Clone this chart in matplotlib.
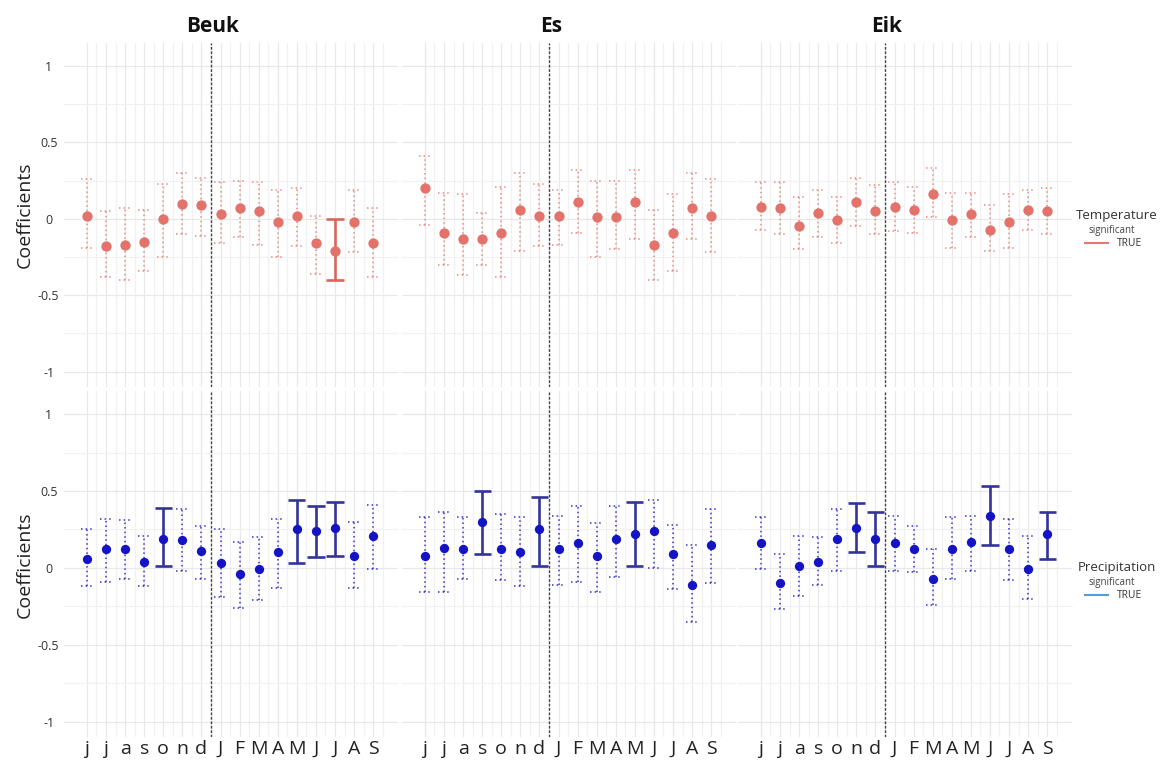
import matplotlib.pyplot as plt
import matplotlib.transforms as mtransforms
import numpy as np

plt.rcParams['font.family'] = ['Open Sans', 'DejaVu Sans']

months = ['j', 'j', 'a', 's', 'o', 'n', 'd', 'J', 'F', 'M', 'A', 'M', 'J', 'J', 'A', 'S']
species = ['Beuk', 'Es', 'Eik']

# temperature coefficients (estimate, lower, upper, significant)
beuk_temp_est = [0.02, -0.18, -0.17, -0.15, 0.00, 0.10, 0.09, 0.03, 0.07, 0.05, -0.02, 0.02, -0.16, -0.21, -0.02, -0.16]
beuk_temp_lo = [-0.19, -0.38, -0.40, -0.34, -0.25, -0.10, -0.11, -0.16, -0.12, -0.17, -0.25, -0.18, -0.36, -0.40, -0.22, -0.38]
beuk_temp_hi = [0.26, 0.05, 0.07, 0.06, 0.23, 0.30, 0.27, 0.24, 0.25, 0.24, 0.19, 0.20, 0.02, 0.00, 0.19, 0.07]
beuk_temp_sig = [0, 0, 0, 0, 0, 0, 0, 0, 0, 0, 0, 0, 0, 1, 0, 0]

es_temp_est = [0.20, -0.09, -0.13, -0.13, -0.09, 0.06, 0.02, 0.02, 0.11, 0.01, 0.01, 0.11, -0.17, -0.09, 0.07, 0.02]
es_temp_lo = [-0.04, -0.30, -0.37, -0.30, -0.38, -0.21, -0.18, -0.17, -0.09, -0.25, -0.20, -0.13, -0.40, -0.34, -0.13, -0.22]
es_temp_hi = [0.41, 0.17, 0.16, 0.04, 0.21, 0.30, 0.23, 0.19, 0.32, 0.25, 0.25, 0.32, 0.06, 0.16, 0.30, 0.26]
es_temp_sig = [0] * 16

eik_temp_est = [0.08, 0.07, -0.05, 0.04, -0.01, 0.11, 0.05, 0.08, 0.06, 0.16, -0.01, 0.03, -0.07, -0.02, 0.06, 0.05]
eik_temp_lo = [-0.07, -0.10, -0.20, -0.12, -0.16, -0.05, -0.10, -0.08, -0.09, 0.01, -0.19, -0.12, -0.21, -0.19, -0.07, -0.10]
eik_temp_hi = [0.24, 0.24, 0.14, 0.19, 0.14, 0.27, 0.22, 0.24, 0.21, 0.33, 0.17, 0.17, 0.09, 0.16, 0.19, 0.20]
eik_temp_sig = [0] * 16

# precipitation coefficients
beuk_prec_est = [0.06, 0.12, 0.12, 0.04, 0.19, 0.18, 0.11, 0.03, -0.04, -0.01, 0.10, 0.25, 0.24, 0.26, 0.08, 0.21]
beuk_prec_lo = [-0.12, -0.09, -0.07, -0.12, 0.01, -0.02, -0.07, -0.19, -0.26, -0.21, -0.13, 0.03, 0.07, 0.08, -0.13, -0.01]
beuk_prec_hi = [0.25, 0.32, 0.31, 0.21, 0.39, 0.38, 0.27, 0.25, 0.17, 0.20, 0.32, 0.44, 0.40, 0.43, 0.30, 0.41]
beuk_prec_sig = [0, 0, 0, 0, 1, 0, 0, 0, 0, 0, 0, 1, 1, 1, 0, 0]

es_prec_est = [0.08, 0.13, 0.12, 0.30, 0.12, 0.10, 0.25, 0.12, 0.16, 0.08, 0.19, 0.22, 0.24, 0.09, -0.11, 0.15]
es_prec_lo = [-0.16, -0.16, -0.07, 0.09, -0.08, -0.12, 0.01, -0.11, -0.09, -0.16, -0.06, 0.01, 0.00, -0.14, -0.35, -0.10]
es_prec_hi = [0.33, 0.36, 0.33, 0.50, 0.35, 0.33, 0.46, 0.34, 0.40, 0.29, 0.40, 0.43, 0.44, 0.28, 0.15, 0.38]
es_prec_sig = [0, 0, 0, 1, 0, 0, 1, 0, 0, 0, 0, 1, 0, 0, 0, 0]

eik_prec_est = [0.16, -0.10, 0.01, 0.04, 0.19, 0.26, 0.19, 0.16, 0.12, -0.07, 0.12, 0.17, 0.34, 0.12, -0.01, 0.22]
eik_prec_lo = [-0.01, -0.27, -0.18, -0.11, -0.02, 0.10, 0.01, -0.02, -0.03, -0.24, -0.07, -0.02, 0.15, -0.08, -0.20, 0.06]
eik_prec_hi = [0.33, 0.09, 0.21, 0.20, 0.38, 0.42, 0.36, 0.34, 0.27, 0.12, 0.33, 0.34, 0.53, 0.32, 0.21, 0.36]
eik_prec_sig = [0, 0, 0, 0, 0, 1, 1, 0, 0, 0, 0, 0, 1, 0, 0, 1]

temp = [
    (beuk_temp_est, beuk_temp_lo, beuk_temp_hi, beuk_temp_sig),
    (es_temp_est, es_temp_lo, es_temp_hi, es_temp_sig),
    (eik_temp_est, eik_temp_lo, eik_temp_hi, eik_temp_sig),
]
prec = [
    (beuk_prec_est, beuk_prec_lo, beuk_prec_hi, beuk_prec_sig),
    (es_prec_est, es_prec_lo, es_prec_hi, es_prec_sig),
    (eik_prec_est, eik_prec_lo, eik_prec_hi, eik_prec_sig),
]

W, H = 1160, 767
fig = plt.figure(figsize=(W / 100, H / 100), dpi=100)


def px_axes(left, top, width, height):
    return fig.add_axes([left / W, 1 - (top + height) / H, width / W, height / H])


def draw_panel(ax, est, lo, hi, sig, pt_color, dot_color, sig_color, pt_size):
    x = np.arange(len(est))
    est, lo, hi = np.array(est), np.array(lo), np.array(hi)
    sig = np.array(sig, dtype=bool)
    ns = ~sig
    # non significant: dotted bars
    ax.vlines(x[ns], lo[ns], hi[ns], color=dot_color, lw=1.1,
              linestyles=(0, (1, 2)), zorder=2)
    ax.hlines(np.r_[lo[ns], hi[ns]], np.r_[x[ns], x[ns]] - 0.33,
              np.r_[x[ns], x[ns]] + 0.33, color=dot_color, lw=1.1,
              linestyles=(0, (1, 2)), zorder=2)
    # significant: solid bars
    ax.vlines(x[sig], lo[sig], hi[sig], color=sig_color, lw=1.9, zorder=2)
    ax.hlines(np.r_[lo[sig], hi[sig]], np.r_[x[sig], x[sig]] - 0.45,
              np.r_[x[sig], x[sig]] + 0.45, color=sig_color, lw=1.9, zorder=2)
    ax.scatter(x, est, s=pt_size, color=pt_color, zorder=3, linewidths=0)


col_left = [64, 402, 738]
col_w = 334
row_top = [43, 391]
row_h = [344, 346]

for r, (data, pt_c, dot_c, sig_c, size) in enumerate([
        (temp, '#E2726A', '#E88E86', '#D9655D', 55),
        (prec, '#1414C4', '#3636C8', '#33339A', 45)]):
    for c in range(3):
        ax = px_axes(col_left[c], row_top[r], col_w, row_h[r])
        ax.set_xlim(-1.2, 16.3)
        ax.set_ylim(-1.1, 1.15)
        ax.set_xticks(np.arange(16))
        ax.set_xticks(np.arange(16) + 0.5, minor=True)
        ax.set_yticks([-1, -0.5, 0, 0.5, 1])
        ax.set_yticks([-0.75, -0.25, 0.25, 0.75], minor=True)
        ax.grid(which='major', color='#e8e8e8', lw=0.9)
        ax.grid(which='minor', color='#f1f1f1', lw=0.9)
        ax.set_axisbelow(True)
        for s in ax.spines.values():
            s.set_visible(False)
        ax.tick_params(which='both', length=0)
        ax.axvline(6.5, color='#444444', lw=1, linestyle=(0, (2, 1.2)), zorder=1)

        if c == 0:
            ax.set_yticklabels(['-1', '-0.5', '0', '0.5', '1'], fontsize=9, color='#333333')
            ax.tick_params(axis='y', pad=11)
            for lab in ax.get_yticklabels():
                lab.set_horizontalalignment('center')
        else:
            ax.set_yticklabels([])
        if r == 1:
            ax.set_xticklabels(months, fontsize=14, color='#222222')
            ax.tick_params(axis='x', pad=2)
        else:
            ax.set_xticklabels([])
            trans = mtransforms.blended_transform_factory(ax.transData, ax.transAxes)
            ax.text(6.6, 1.047, species[c], transform=trans, ha='center',
                    va='center', fontsize=15, fontweight='bold', color='#111111')

        est, lo, hi, sig = data[c]
        draw_panel(ax, est, lo, hi, sig, pt_c, dot_c, sig_c, size)

# y labels
for yc in [215, 565]:
    fig.text(25 / W, 1 - yc / H, 'Coefficients', rotation=90, ha='center',
             va='center', fontsize=14, color='#222222')

# legends
for name, y0, line_c in [('Temperature', 215, '#E07A72'), ('Precipitation', 567, '#5B9BD5')]:
    fig.text(1117 / W, 1 - y0 / H, name, ha='center', va='center', fontsize=9.5, color='#333333')
    fig.text(1112 / W, 1 - (y0 + 16) / H, 'significant', ha='center', va='center',
             fontsize=7, color='#444444')
    fig.add_artist(plt.Line2D([1085 / W, 1108 / W], [1 - (y0 + 28) / H] * 2,
                              color=line_c, lw=1.5))
    fig.text(1117 / W, 1 - (y0 + 29) / H, 'TRUE', ha='left', va='center',
             fontsize=7.5, color='#333333')

fig.savefig('out.png', dpi=100)
